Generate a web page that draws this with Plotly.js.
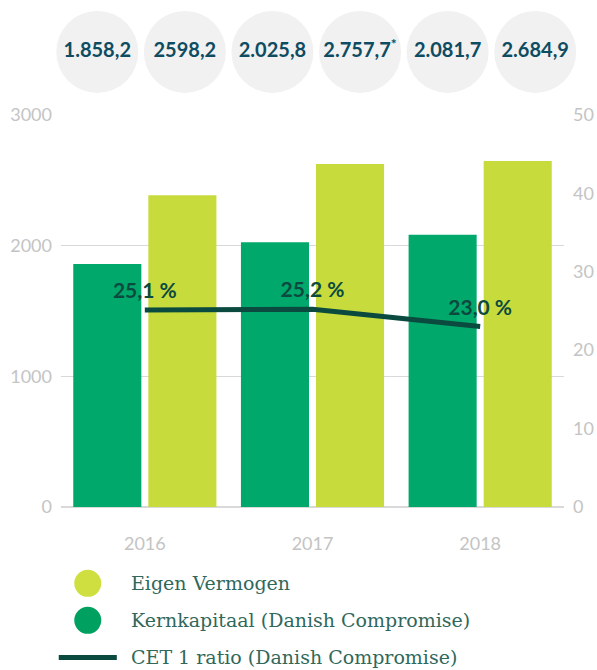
<!DOCTYPE html>
<html>
<head>
<meta charset="utf-8">
<script src="https://cdn.plot.ly/plotly-3.0.1.min.js"></script>
<style>html,body{margin:0;padding:0;background:#fff;}#chart{width:597px;height:670px;}</style>
</head>
<body>
<div id="chart"></div>
<script>
// ---- data ----
var years = ['2016', '2017', '2018'];
var kernkapitaal = [1858.2, 2025.8, 2081.7];
var eigenVermogen = [2385, 2623, 2646];
var cetRatio = [25.1, 25.2, 23.0];
var cetLabels = ['25,1 %', '25,2 %', '23,0 %'];
var circleLabels = ['1.858,2', '2598,2', '2.025,8', '2.757,7<sup>*</sup>', '2.081,7', '2.684,9'];
var circleIndex = [0, 1, 2, 3, 4, 5];
var leftTicks = [0, 1000, 2000, 3000];
var rightTicks = [0, 10, 20, 30, 40, 50];
var legendNames = ['Eigen Vermogen', 'Kernkapitaal (Danish Compromise)', 'CET 1 ratio (Danish Compromise)'];

// ---- layout geometry ----
var W = 597, H = 670;
var mL = 61.25, mR = 33.25, mT = 0, mB = 163.3;
var plotW = W - mL - mR, plotH = H - mT - mB;
function px(x) { return (x - mL) / plotW; }
function py(y) { return (H - mB - y) / plotH; }

var cKern = '#00a86b', cEigen = '#c8db3c', cLine = '#0b4a3f';
var tickFont = {family: 'Lato, sans-serif', size: 18, color: '#c4c4c4'};

var traces = [
  {type: 'bar', x: years, y: kernkapitaal, name: legendNames[1], marker: {color: cKern}, hoverinfo: 'none'},
  {type: 'bar', x: years, y: eigenVermogen, name: legendNames[0], marker: {color: cEigen}, hoverinfo: 'none'},
  {type: 'scatter', mode: 'lines+markers+text', x: years, y: cetRatio, yaxis: 'y2', name: legendNames[2],
   line: {color: cLine, width: 5}, marker: {size: 9, color: 'rgba(0,0,0,0)'},
   text: cetLabels, textposition: 'top center',
   textfont: {family: 'Lato, sans-serif', size: 21, color: cLine, weight: 700}, cliponaxis: false, hoverinfo: 'none'},
  {type: 'scatter', mode: 'markers+text', x: circleIndex, y: circleIndex.map(function(){return 0;}),
   xaxis: 'x3', yaxis: 'y3', text: circleLabels, textposition: 'middle center',
   marker: {size: 82, color: '#f1f1f1'},
   textfont: {family: 'Lato, sans-serif', size: 20, color: '#0e4c61', weight: 700}, cliponaxis: false, hoverinfo: 'none'}
];

var topY = py(114.7);
var c0 = 97.5, cStep = 87.5;
var x3a = -(c0 - mL) / cStep;
var x3b = x3a + plotW / cStep;

var shapes = [], annotations = [];
var legendY = [583, 620, 657];
shapes.push({type: 'circle', xref: 'paper', yref: 'paper', xsizemode: 'pixel', ysizemode: 'pixel',
  xanchor: px(88), yanchor: py(legendY[0]), x0: -13.5, x1: 13.5, y0: -13.5, y1: 13.5,
  fillcolor: '#cfdf40', line: {width: 0}});
shapes.push({type: 'circle', xref: 'paper', yref: 'paper', xsizemode: 'pixel', ysizemode: 'pixel',
  xanchor: px(88), yanchor: py(legendY[1]), x0: -13.5, x1: 13.5, y0: -13.5, y1: 13.5,
  fillcolor: '#00a060', line: {width: 0}});
shapes.push({type: 'line', xref: 'paper', yref: 'paper', x0: px(59), x1: px(117), y0: py(legendY[2]), y1: py(legendY[2]),
  line: {color: cLine, width: 5}});
legendNames.forEach(function(n, i) {
  annotations.push({xref: 'paper', yref: 'paper', x: px(129), y: py(legendY[i]), xanchor: 'left', yanchor: 'middle',
    text: n, showarrow: false, font: {family: 'DejaVu Serif, serif', size: 19, color: '#30685b'}});
});

var layout = {
  width: W, height: H,
  margin: {l: mL, r: mR, t: mT, b: mB, pad: 0},
  paper_bgcolor: '#fff', plot_bgcolor: '#fff',
  showlegend: false,
  barmode: 'group', bargap: 0.1045, bargroupgap: 0.0933,
  xaxis: {type: 'category', range: [-0.5, 2.5], showgrid: false, zeroline: false, showline: false,
    ticks: '', tickfont: tickFont, ticklabelstandoff: 24, automargin: false, fixedrange: true},
  yaxis: {domain: [0, topY], range: [0, 3000], tickvals: leftTicks, showgrid: true, gridcolor: '#d9d9d9', gridwidth: 1.5,
    zeroline: true, zerolinecolor: '#d9d9d9', zerolinewidth: 1.5, showline: false, ticks: '',
    tickfont: tickFont, ticklabelstandoff: 8, automargin: false, fixedrange: true},
  yaxis2: {domain: [0, topY], range: [0, 50], tickvals: rightTicks, overlaying: 'y', side: 'right', showgrid: false,
    zeroline: false, showline: false, ticks: '', tickfont: tickFont, ticklabelstandoff: 8, automargin: false, fixedrange: true},
  xaxis3: {domain: [0, 1], range: [x3a, x3b], anchor: 'y3', visible: false, fixedrange: true},
  yaxis3: {domain: [0.795, 1], range: [-1, 1], anchor: 'x3', visible: false, fixedrange: true},
  shapes: shapes,
  annotations: annotations
};

Plotly.newPlot('chart', traces, layout, {displayModeBar: false, staticPlot: true});
</script>
</body>
</html>
